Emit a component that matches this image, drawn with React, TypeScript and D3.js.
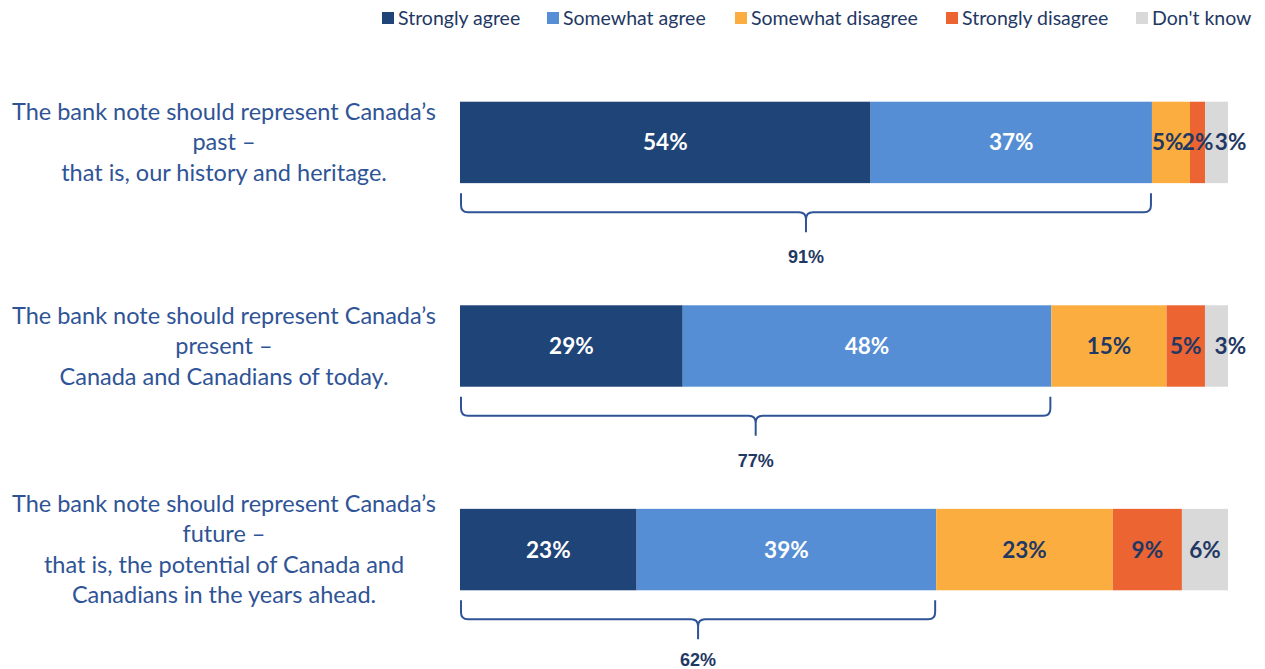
import { useEffect } from 'react'
import { scaleLinear, scaleBand } from 'd3'

// Survey: what the bank note should represent. 100% stacked bars, one per
// statement, with a brace under the two "agree" segments showing the net.
const STATEMENTS = [
  ["The bank note should represent Canada\u2019s", 'past \u2013', 'that is, our history and heritage.'],
  ["The bank note should represent Canada\u2019s", 'present \u2013', 'Canada and Canadians of today.'],
  ["The bank note should represent Canada\u2019s", 'future \u2013', 'that is, the potential of Canada and', 'Canadians in the years ahead.'],
]
const CATEGORIES = ['Strongly agree', 'Somewhat agree', 'Somewhat disagree', 'Strongly disagree', "Don't know"]
const COLORS = ['#1F4478', '#558ED5', '#FBAE3F', '#EC6432', '#D9D9D9']
const VALUES = [
  [54, 37, 5, 2, 3],
  [29, 48, 15, 5, 3],
  [23, 39, 23, 9, 6],
]
const NETS = [91, 77, 62]

const W = 1265
const H = 669
const NAVY = '#1F3864'
const BLUE = '#2F5496'
const CAL = 'Lato, "Open Sans", sans-serif'
const VAL_FS = 22.5

export default function App() {
  useEffect(() => {
    document.body.style.margin = '0'
  }, [])

  const y = scaleBand<number>().domain([0, 1, 2]).range([61, 631]).paddingInner(0.6).paddingOuter(0.2)
  const bh = y.bandwidth()

  // legend positions
  const legendX = [382, 547, 735, 946, 1136]

  return (
    <svg width={W} height={H} style={{ display: 'block', background: '#fff' }}>
      {CATEGORIES.map((c, i) => (
        <g key={c}>
          <rect x={legendX[i]} y={12} width={12} height={12} fill={COLORS[i]} />
          <text x={legendX[i] + 16} y={25} fontFamily={CAL} fontSize={19.5} fill={NAVY}>
            {c}
          </text>
        </g>
      ))}
      {VALUES.map((vals, r) => {
        const total = vals.reduce((a, b) => a + b, 0)
        const x = scaleLinear().domain([0, total]).range([460, 1228])
        const y0 = y(r) as number
        const cy = y0 + bh / 2
        let acc = 0
        const segs = vals.map((v, i) => {
          const x0 = x(acc)
          const x1 = x(acc + v)
          acc += v
          const w = `${v}%`.length * 0.64 * VAL_FS
          // a narrow last segment has its label pushed out to the right
          const narrow = i === vals.length - 1 && x1 - x0 < 30
          const cx = narrow ? x0 + 11 + w / 2 : (x0 + x1) / 2
          return { i, v, x0, x1, w, cx }
        })
        // nudge labels left so neighbours in thin segments don't collide
        for (let k = segs.length - 2; k >= 0; k--) {
          const a = segs[k]
          const b = segs[k + 1]
          const gap = b.cx - b.w / 2 - (a.cx + a.w / 2)
          if (gap < 1) a.cx += gap - 1
        }
        const lines = STATEMENTS[r]
        const lh = 30.5
        const agreeEnd = x(vals[0] + vals[1])
        const bx0 = x(0) + 1
        const bx1 = agreeEnd - 1
        const xm = (bx0 + bx1) / 2
        const yT = y0 + bh + 10
        const yH = yT + 19
        const yB = yH + 20
        const rr = 7
        const brace =
          `M${bx0},${yT} L${bx0},${yH - rr} Q${bx0},${yH} ${bx0 + rr},${yH} L${xm - rr},${yH} Q${xm},${yH} ${xm},${yH + rr} L${xm},${yB}` +
          ` M${bx1},${yT} L${bx1},${yH - rr} Q${bx1},${yH} ${bx1 - rr},${yH} L${xm + rr},${yH} Q${xm},${yH} ${xm},${yH + rr}`
        return (
          <g key={r}>
            <text textAnchor="middle" fontFamily={CAL} fontSize={23.5} fill={BLUE}>
              {lines.map((l, k) => (
                <tspan key={k} x={224} y={cy + (k - (lines.length - 1) / 2) * lh + 8}>
                  {l}
                </tspan>
              ))}
            </text>
            {segs.map((s) => (
              <rect key={s.i} x={s.x0} y={y0} width={s.x1 - s.x0} height={bh} fill={COLORS[s.i]} />
            ))}
            {segs.map((s) => (
              <text
                key={s.i}
                x={s.cx}
                y={cy + 8}
                textAnchor="middle"
                fontFamily={CAL}
                fontWeight="bold"
                fontSize={VAL_FS}
                fill={s.i < 2 ? '#fff' : NAVY}
              >
                {s.v}%
              </text>
            ))}
            <path d={brace} fill="none" stroke={BLUE} strokeWidth={2} />
            <text
              x={xm}
              y={Math.min(yB + 31, H - 3)}
              textAnchor="middle"
              fontFamily='"Liberation Sans", Arial, sans-serif'
              fontWeight="bold"
              fontSize={18}
              fill={NAVY}
            >
              {NETS[r]}%
            </text>
          </g>
        )
      })}
    </svg>
  )
}
